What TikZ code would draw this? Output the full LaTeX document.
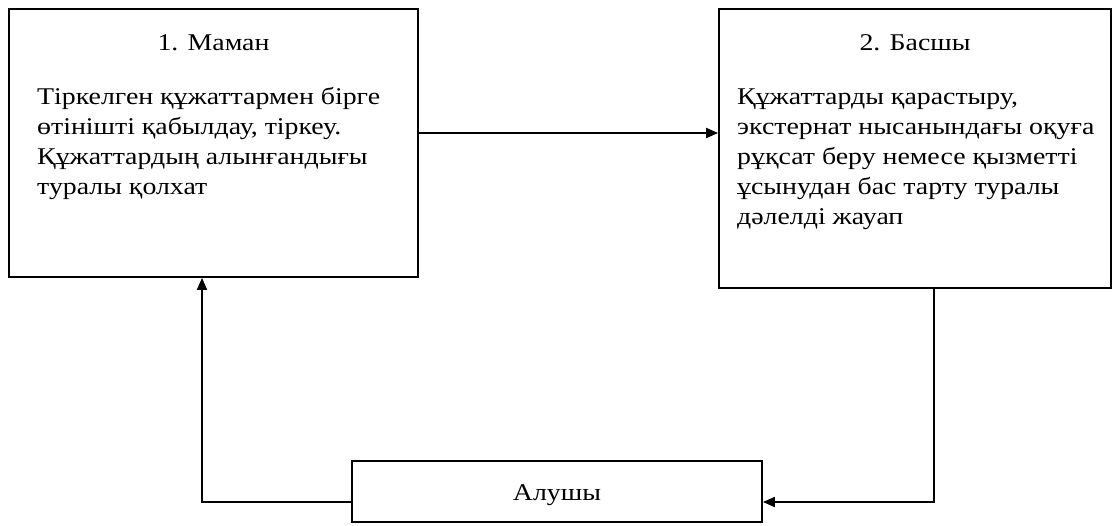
\documentclass[tikz,border=0pt]{standalone}
\usepackage{fontspec}
\setmainfont{Liberation Serif}[FakeStretch=1.16]
\usetikzlibrary{arrows.meta}
\begin{document}
\begin{tikzpicture}[x=1pt,y=-1pt,
  box/.style={draw,line width=1.8pt,inner sep=0pt},
  ttl/.style={font=\fontsize{24}{30}\selectfont,inner sep=0pt,anchor=base},
  body/.style={font=\fontsize{24}{30}\selectfont,inner sep=0pt,anchor=base west,align=left},
  arr/.style={line width=1.8pt,-{Triangle[length=12pt,width=10pt]}}]
\useasboundingbox (0,0) rectangle (1113,525);
\node[box,minimum width=409pt,minimum height=268pt] (b1) at (213.5,143) {};
\node[box,minimum width=392pt,minimum height=279pt] (b2) at (915,148.5) {};
\node[box,minimum width=410pt,minimum height=61pt] (b3) at (557,491.5) {};
\node[ttl] (t1) at (213.5,50) {1. Маман};
\node[ttl] (t2) at (915,50) {2. Басшы};
\node[ttl] (t3) at (557,500) {Алушы};
\node[body] (x1) at (37,194) {Тіркелген құжаттармен бірге\\өтінішті қабылдау, тіркеу.\\Құжаттардың алынғандығы\\туралы қолхат};
\node[body] (x2) at (737,224) {Құжаттарды қарастыру,\\экстернат нысанындағы оқуға\\рұқсат беру немесе қызметті\\ұсынудан бас тарту туралы\\дәлелді жауап};
\coordinate (ya) at (0,133);
\coordinate (yb) at (0,502);
\coordinate (xl) at (202,0);
\coordinate (xr) at (934,0);
\draw[arr] (b1.east |- ya) -- (b2.west |- ya);
\draw[arr] (b2.south -| xr) -- (xr |- yb) -- (b3.east |- yb);
\draw[arr] (b3.west |- yb) -- (xl |- yb) -- (b1.south -| xl);
\end{tikzpicture}
\end{document}
